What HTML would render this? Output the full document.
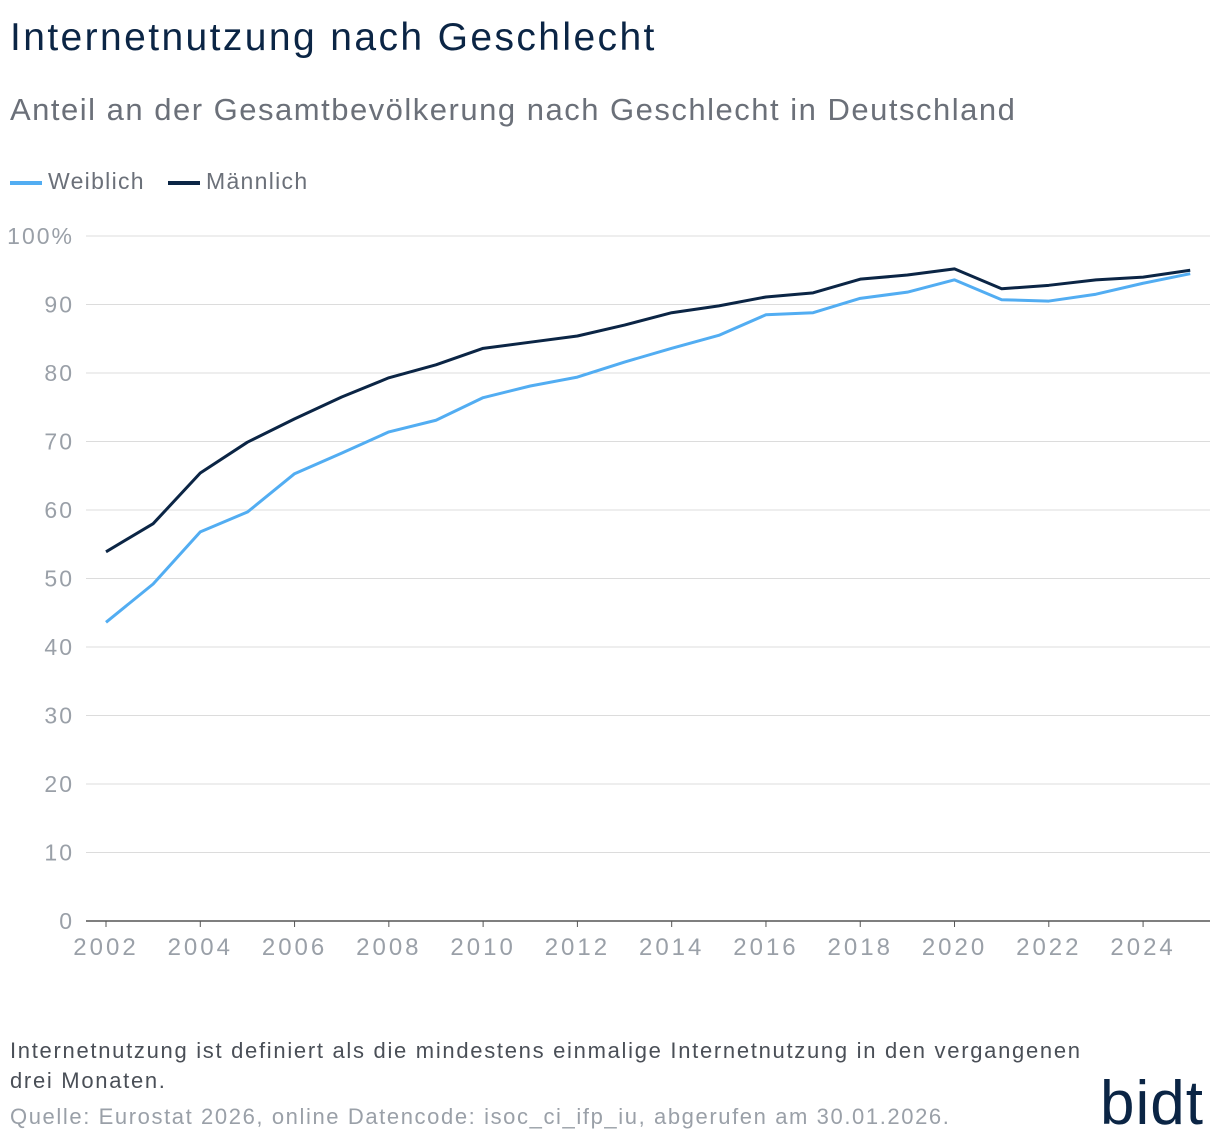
<!DOCTYPE html>
<html><head><meta charset="utf-8">
<style>
body{margin:0;background:#fff;width:1220px;height:1144px;overflow:hidden;font-family:"Liberation Sans",sans-serif;}
.t{position:absolute;white-space:nowrap}
</style></head>
<body>
<div class="t" style="left:10px;top:16px;font-size:39px;letter-spacing:2.4px;color:#0b2545">Internetnutzung nach Geschlecht</div>
<div class="t" style="left:10px;top:92px;font-size:31px;letter-spacing:1.5px;color:#6b7079">Anteil an der Gesamtbevölkerung nach Geschlecht in Deutschland</div>
<div class="t" style="left:10px;top:168px;font-size:23px;letter-spacing:1.3px;color:#6b7079"><span style="display:inline-block;width:32px;height:4px;background:#52adf2;vertical-align:middle;margin-right:6px"></span>Weiblich</div>
<div class="t" style="left:168px;top:168px;font-size:23px;letter-spacing:1.3px;color:#6b7079"><span style="display:inline-block;width:32px;height:4px;background:#0b2545;vertical-align:middle;margin-right:6px"></span>Männlich</div>
<svg id="chart" width="1220" height="1144" style="position:absolute;left:0;top:0"></svg>
<div class="t" style="left:10px;top:1036px;font-size:22px;letter-spacing:1.7px;color:#4a4f57;line-height:30px">Internetnutzung ist definiert als die mindestens einmalige Internetnutzung in den vergangenen<br>drei Monaten.</div>
<div class="t" style="left:10px;top:1104px;font-size:22px;letter-spacing:1.6px;color:#9aa0a8">Quelle: Eurostat 2026, online Datencode: isoc_ci_ifp_iu, abgerufen am 30.01.2026.</div>
<div class="t" style="left:1100px;top:1068px;font-size:62px;color:#0b2545;letter-spacing:1px">bidt</div>
<script>
const years=[2002,2003,2004,2005,2006,2007,2008,2009,2010,2011,2012,2013,2014,2015,2016,2017,2018,2019,2020,2021,2022,2023,2024,2025];
const weiblich=[43.6,49.2,56.8,59.7,65.3,68.3,71.4,73.1,76.4,78.1,79.4,81.6,83.6,85.5,88.5,88.8,90.9,91.8,93.6,90.7,90.5,91.5,93.1,94.5];
const maennlich=[53.9,58,65.4,69.9,73.3,76.5,79.3,81.2,83.6,84.5,85.4,87,88.8,89.8,91.1,91.7,93.7,94.3,95.2,92.3,92.8,93.6,94,95];
const yTicks=[0,10,20,30,40,50,60,70,80,90,100];
const xTicks=[2002,2004,2006,2008,2010,2012,2014,2016,2018,2020,2022,2024];
const svg=document.getElementById('chart');const NS='http://www.w3.org/2000/svg';
const x=v=>106+(v-2002)*47.14;const y=v=>921-v*6.85;
function mk(t,a){const e=document.createElementNS(NS,t);for(const k in a)e.setAttribute(k,a[k]);svg.appendChild(e);return e;}
yTicks.forEach(v=>{
 const l=mk('line',{x1:86,x2:1210,y1:y(v),y2:y(v),stroke:v===0?'#555':'#dcdcdc','stroke-width':v===0?1.5:1});
 
 
 const t=mk('text',{x:74,y:y(v)+8,'text-anchor':'end','font-size':23,'letter-spacing':2,fill:'#9aa0a8','font-family':'Liberation Sans'});
 t.textContent=v===100?'100%':v;
 
 
});
xTicks.forEach(v=>{
 const tk=mk('line',{x1:x(v),x2:x(v),y1:921,y2:927,stroke:'#555'});
 
 
 const t=mk('text',{x:x(v),y:955,'text-anchor':'middle','font-size':24,'letter-spacing':3,fill:'#9aa0a8','font-family':'Liberation Sans'});
 t.textContent=v;
 
 
});
function line(d,c,n){const p=mk('polyline',{points:d.map((v,i)=>x(years[i])+','+y(v)).join(' '),fill:'none',stroke:c,'stroke-width':3,'stroke-linejoin':'round'});
 
 }
line(weiblich,'#52adf2','line-weiblich');
line(maennlich,'#0b2545','line-maennlich');
</script>
</body></html>
